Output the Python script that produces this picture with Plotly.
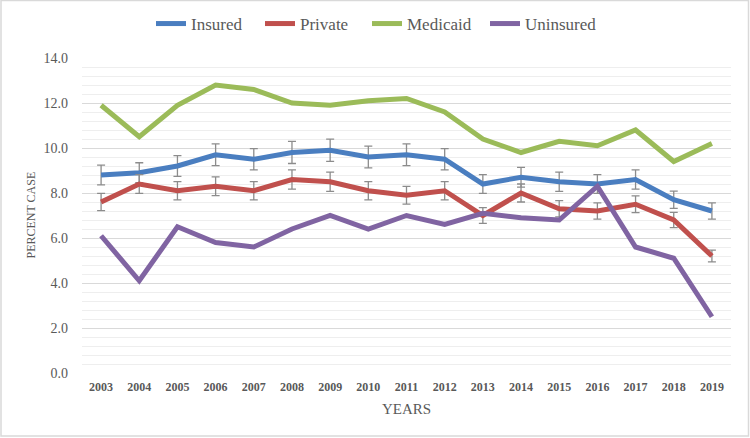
import plotly.graph_objects as go

years = [str(y) for y in range(2003, 2020)]
insured = [8.8, 8.9, 9.2, 9.7, 9.5, 9.8, 9.9, 9.6, 9.7, 9.5, 8.4, 8.7, 8.5, 8.4, 8.6, 7.7, 7.2]
private = [7.6, 8.4, 8.1, 8.3, 8.1, 8.6, 8.5, 8.1, 7.9, 8.1, 7.0, 8.0, 7.3, 7.2, 7.5, 6.8, 5.2]
medicaid = [11.9, 10.5, 11.9, 12.8, 12.6, 12.0, 11.9, 12.1, 12.2, 11.6, 10.4, 9.8, 10.3, 10.1, 10.8, 9.4, 10.2]
uninsured = [6.1, 4.1, 6.5, 5.8, 5.6, 6.4, 7.0, 6.4, 7.0, 6.6, 7.1, 6.9, 6.8, 8.3, 5.6, 5.1, 2.5]
error_pct = 5
y_ticks = [0, 2, 4, 6, 8, 10, 12, 14]

W, H = 750, 438
ML, MR, MT, MB = 82, 19, 58, 65
FONT = "Liberation Serif"
GRAY = "#595959"

# name, values, colour, error bars, legend slot width (px)
series = [
    ("Insured", insured, "#4A7EC0", True, 64),
    ("Private", private, "#C0504D", True, 62),
    ("Medicaid", medicaid, "#9BBB59", False, 73),
    ("Uninsured", uninsured, "#8064A2", False, 66),
]

fig = go.Figure()
for name, vals, color, err, lw in series:
    kw = {}
    if err:
        kw["error_y"] = dict(type="percent", value=error_pct, color="#8c8c8c",
                             thickness=1.3, width=4)
    fig.add_trace(go.Scatter(x=years, y=vals, name=name, mode="lines",
                             legendwidth=lw,
                             line=dict(color=color, width=5), **kw))

pw = W - ML - MR
ph = H - MT - MB
fig.add_shape(type="rect", xref="paper", yref="paper",
              x0=-(ML - 1) / pw, x1=1 + (MR - 1.5) / pw,
              y0=-(MB - 2) / ph, y1=1 + (MT - 0.5) / ph,
              line=dict(color="#d9d9d9", width=1.5), layer="below")

fig.add_annotation(text="PERCENT CASE", xref="paper", yref="paper",
                   x=-(ML - 30) / pw, y=0.5, textangle=-90, showarrow=False,
                   xanchor="center", yanchor="middle",
                   font=dict(size=12, color=GRAY, family=FONT))
fig.add_annotation(text="YEARS", xref="paper", yref="paper",
                   x=0.5, y=-(409 - (H - MB)) / ph, showarrow=False,
                   xanchor="center", yanchor="middle",
                   font=dict(size=15, color=GRAY, family=FONT))

fig.update_layout(
    width=W, height=H,
    margin=dict(l=ML, r=MR, t=MT, b=MB, pad=0, autoexpand=False),
    paper_bgcolor="white", plot_bgcolor="white",
    font=dict(family=FONT, color=GRAY),
    showlegend=True,
    legend=dict(orientation="h", x=(151 - ML) / pw, xanchor="left", y=1 + 34 / ph,
                yanchor="middle", font=dict(size=17, color=GRAY),
                itemwidth=30, tracegroupgap=0, borderwidth=0),
    xaxis=dict(type="category", range=[-0.5, len(years) - 0.5],
               showgrid=False, zeroline=False, showline=False,
               ticks="", automargin=False, ticklabelstandoff=5,
               tickfont=dict(size=12, family=FONT, color=GRAY, weight="bold")),
    yaxis=dict(range=[0, 14], tickvals=y_ticks, ticktext=[f"{v:.1f}" for v in y_ticks],
               showgrid=True, gridcolor="#d9d9d9", gridwidth=1.2, automargin=False,
               minor=dict(dtick=0.4, showgrid=True, gridcolor="#eeeeee", gridwidth=1),
               zeroline=False, showline=False, ticks="", ticklabelstandoff=13,
               tickfont=dict(size=14, color=GRAY)),
)

fig.write_html("out.html", config={"displayModeBar": False},
               post_script="document.body.style.margin='0';")
